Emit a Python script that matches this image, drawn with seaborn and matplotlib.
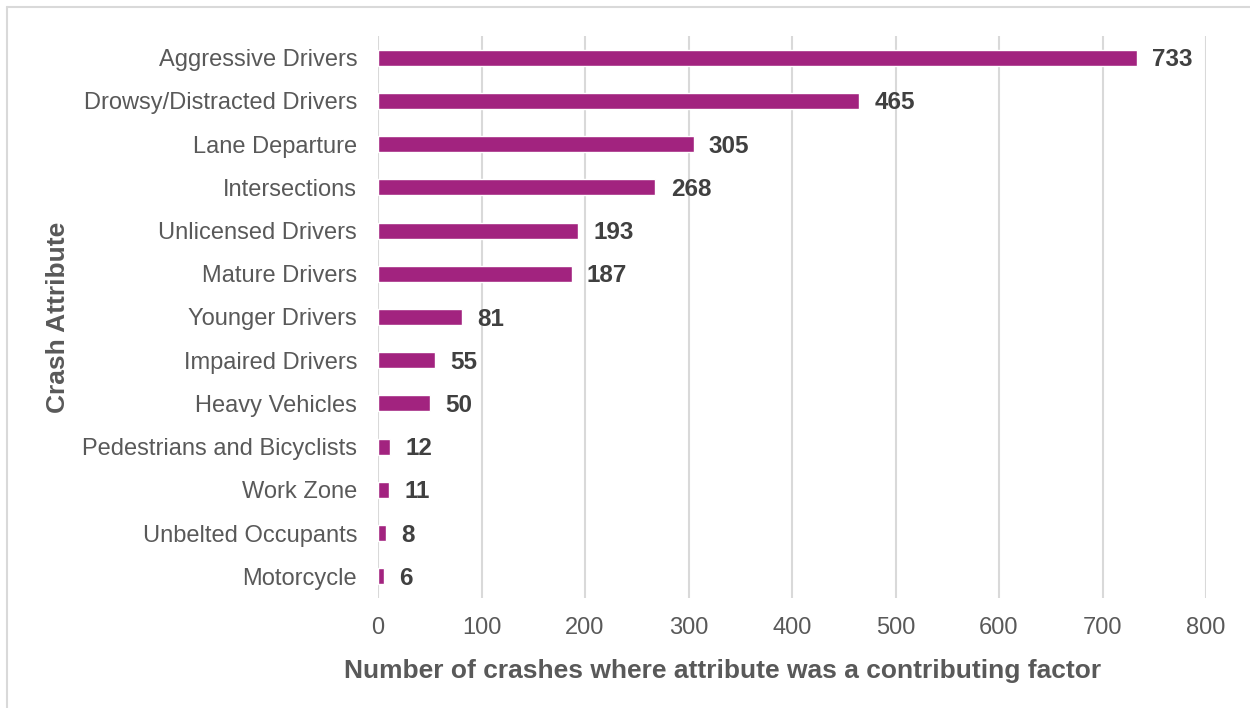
import matplotlib
matplotlib.use("Agg")
import matplotlib.pyplot as plt
from matplotlib.lines import Line2D
import seaborn as sns
import pandas as pd

categories = [
    "Aggressive Drivers",
    "Drowsy/Distracted Drivers",
    "Lane Departure",
    "Intersections",
    "Unlicensed Drivers",
    "Mature Drivers",
    "Younger Drivers",
    "Impaired Drivers",
    "Heavy Vehicles",
    "Pedestrians and Bicyclists",
    "Work Zone",
    "Unbelted Occupants",
    "Motorcycle",
]
crashes = [733, 465, 305, 268, 193, 187, 81, 55, 50, 12, 11, 8, 6]
x_ticks = [0, 100, 200, 300, 400, 500, 600, 700, 800]

df = pd.DataFrame({"attribute": categories, "crashes": crashes})

sns.set_theme(style="white")
plt.rcParams["font.family"] = ["Liberation Sans", "DejaVu Sans"]

bar_color = "#A2237F"
text_gray = "#595959"
label_dark = "#404040"
grid_gray = "#D9D9D9"

fig = plt.figure(figsize=(12.5, 7.08), dpi=100)
ax = fig.add_axes([0.3024, 0.1554, 0.6624, 0.7938])

sns.barplot(data=df, x="crashes", y="attribute", orient="h",
            color=bar_color, saturation=1, width=0.37, ax=ax, zorder=3)

ax.set_xlim(0, 800)
ax.set_ylim(len(categories) - 0.5, -0.5)
ax.set_xticks(x_ticks)
ax.set_xticklabels([str(t) for t in x_ticks])

ax.xaxis.grid(True, color=grid_gray, linewidth=1.5, zorder=0)
ax.yaxis.grid(False)
for s in ax.spines.values():
    s.set_visible(False)

ax.tick_params(axis="both", length=0, labelsize=17, labelcolor=text_gray)
ax.tick_params(axis="x", pad=14)
ax.tick_params(axis="y", pad=15)

ax.set_xlabel("Number of crashes where attribute was a contributing factor",
              fontsize=19, fontweight="bold", color=text_gray)
ax.xaxis.set_label_coords(0.4167, -0.109)
ax.set_ylabel("Crash Attribute", fontsize=19, fontweight="bold",
              color=text_gray)
ax.yaxis.set_label_coords(-0.372, 0.5)

for i, v in enumerate(crashes):
    ax.annotate(str(v), xy=(v, i), xytext=(11, -1.5), textcoords="offset points",
                va="center", ha="left", fontsize=17.5, fontweight="bold",
                color=label_dark)

# thin frame lines at the top and left of the figure
fig.add_artist(Line2D([6.5 / 1250, 6.5 / 1250], [0, 1 - 6.5 / 708],
                      transform=fig.transFigure, color=grid_gray, linewidth=1.5))
fig.add_artist(Line2D([6.5 / 1250, 1], [1 - 6.5 / 708, 1 - 6.5 / 708],
                      transform=fig.transFigure, color=grid_gray, linewidth=1.5))

fig.savefig("out.png", dpi=100, facecolor="white")
